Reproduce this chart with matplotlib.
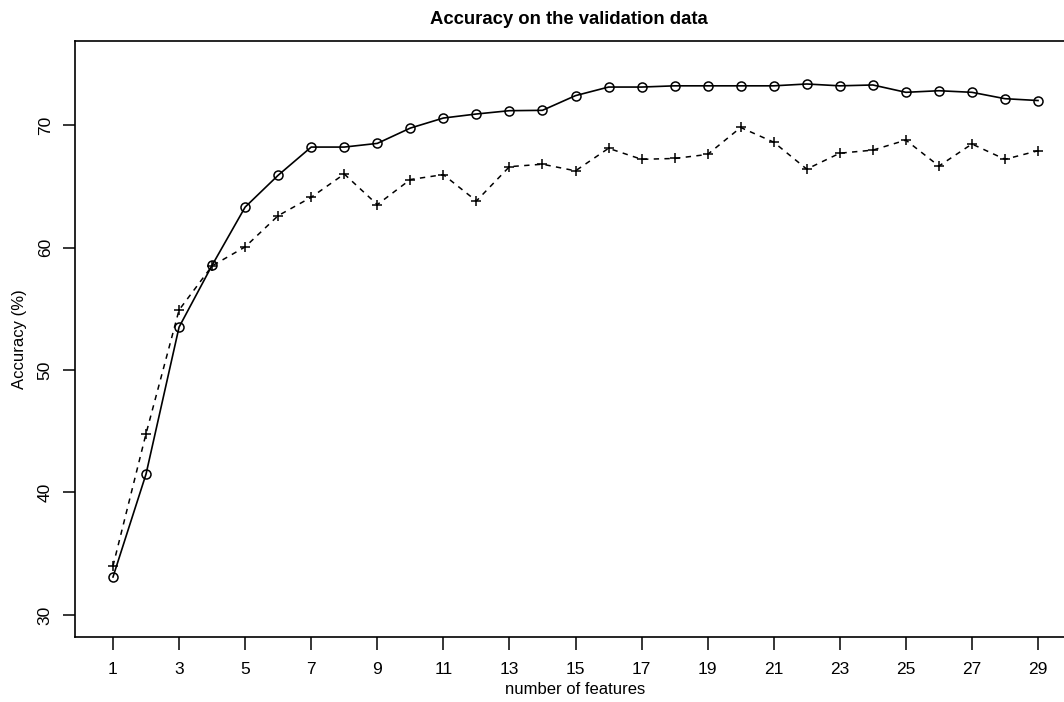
import numpy as np
import matplotlib
matplotlib.use('Agg')
import matplotlib.pyplot as plt

plt.rc('font', family=['Liberation Sans', 'DejaVu Sans'])

# Number of features used by the model
n_features = np.arange(1, 30)

# Accuracy (%) on the validation data, solid line with circles
acc_solid = [33.1, 41.5, 53.5, 58.55, 63.3, 65.9, 68.2, 68.2, 68.5, 69.75,
             70.57, 70.9, 71.17, 71.2, 72.4, 73.1, 73.1, 73.2, 73.2, 73.2,
             73.2, 73.35, 73.2, 73.27, 72.67, 72.8, 72.67, 72.15, 72.0]

# Accuracy (%) on the validation data, dashed line with plus signs
acc_dashed = [34.0, 44.8, 54.9, 58.5, 60.05, 62.6, 64.1, 66.0, 63.5, 65.55,
              65.95, 63.8, 66.6, 66.8, 66.26, 68.1, 67.2, 67.27, 67.6, 69.8,
              68.6, 66.4, 67.7, 67.95, 68.77, 66.65, 68.45, 67.2, 67.9]

x_ticks = np.arange(1, 30, 2)
y_ticks = [30, 40, 50, 60, 70]

W, H = 1064, 702
fig = plt.figure(figsize=(W / 100, H / 100), dpi=100)
ax = fig.add_axes([75 / W, 1 - 637 / H, (1076 - 75) / W, (637 - 41) / H])

ax.plot(n_features, acc_solid, color='black', lw=1.2, marker='o',
        markersize=6.5, markerfacecolor='none', markeredgewidth=1.1)
ax.plot(n_features, acc_dashed, color='black', lw=1.1, linestyle=(0, (3.5, 3.5)),
        marker='+', markersize=7, markeredgewidth=1.1)

ax.set_xlim(-0.15, 30.15)
ax.set_ylim(28.2, 76.86)
ax.set_xticks(x_ticks)
ax.set_yticks(y_ticks)
ax.set_yticklabels([str(v) for v in y_ticks], rotation=90, va='center')

ax.tick_params(axis='both', direction='out', length=9, width=1.1,
               labelsize=12.5, colors='black')
ax.tick_params(axis='x', pad=9)
ax.tick_params(axis='y', pad=7)
for side in ax.spines.values():
    side.set_linewidth(1.2)

# axis titles placed like R's mtext lines
fig.text(575 / W, 1 - 690 / H, 'number of features', ha='center',
         va='center', fontsize=12)
fig.text(20 / W, 1 - 339 / H, 'Accuracy (%)', ha='center', va='center',
         rotation=90, fontsize=12)
fig.text(569 / W, 1 - 20 / H, 'Accuracy on the validation data',
         ha='center', va='center', fontsize=13.3, fontweight='bold')

fig.savefig('out.png', dpi=100)
